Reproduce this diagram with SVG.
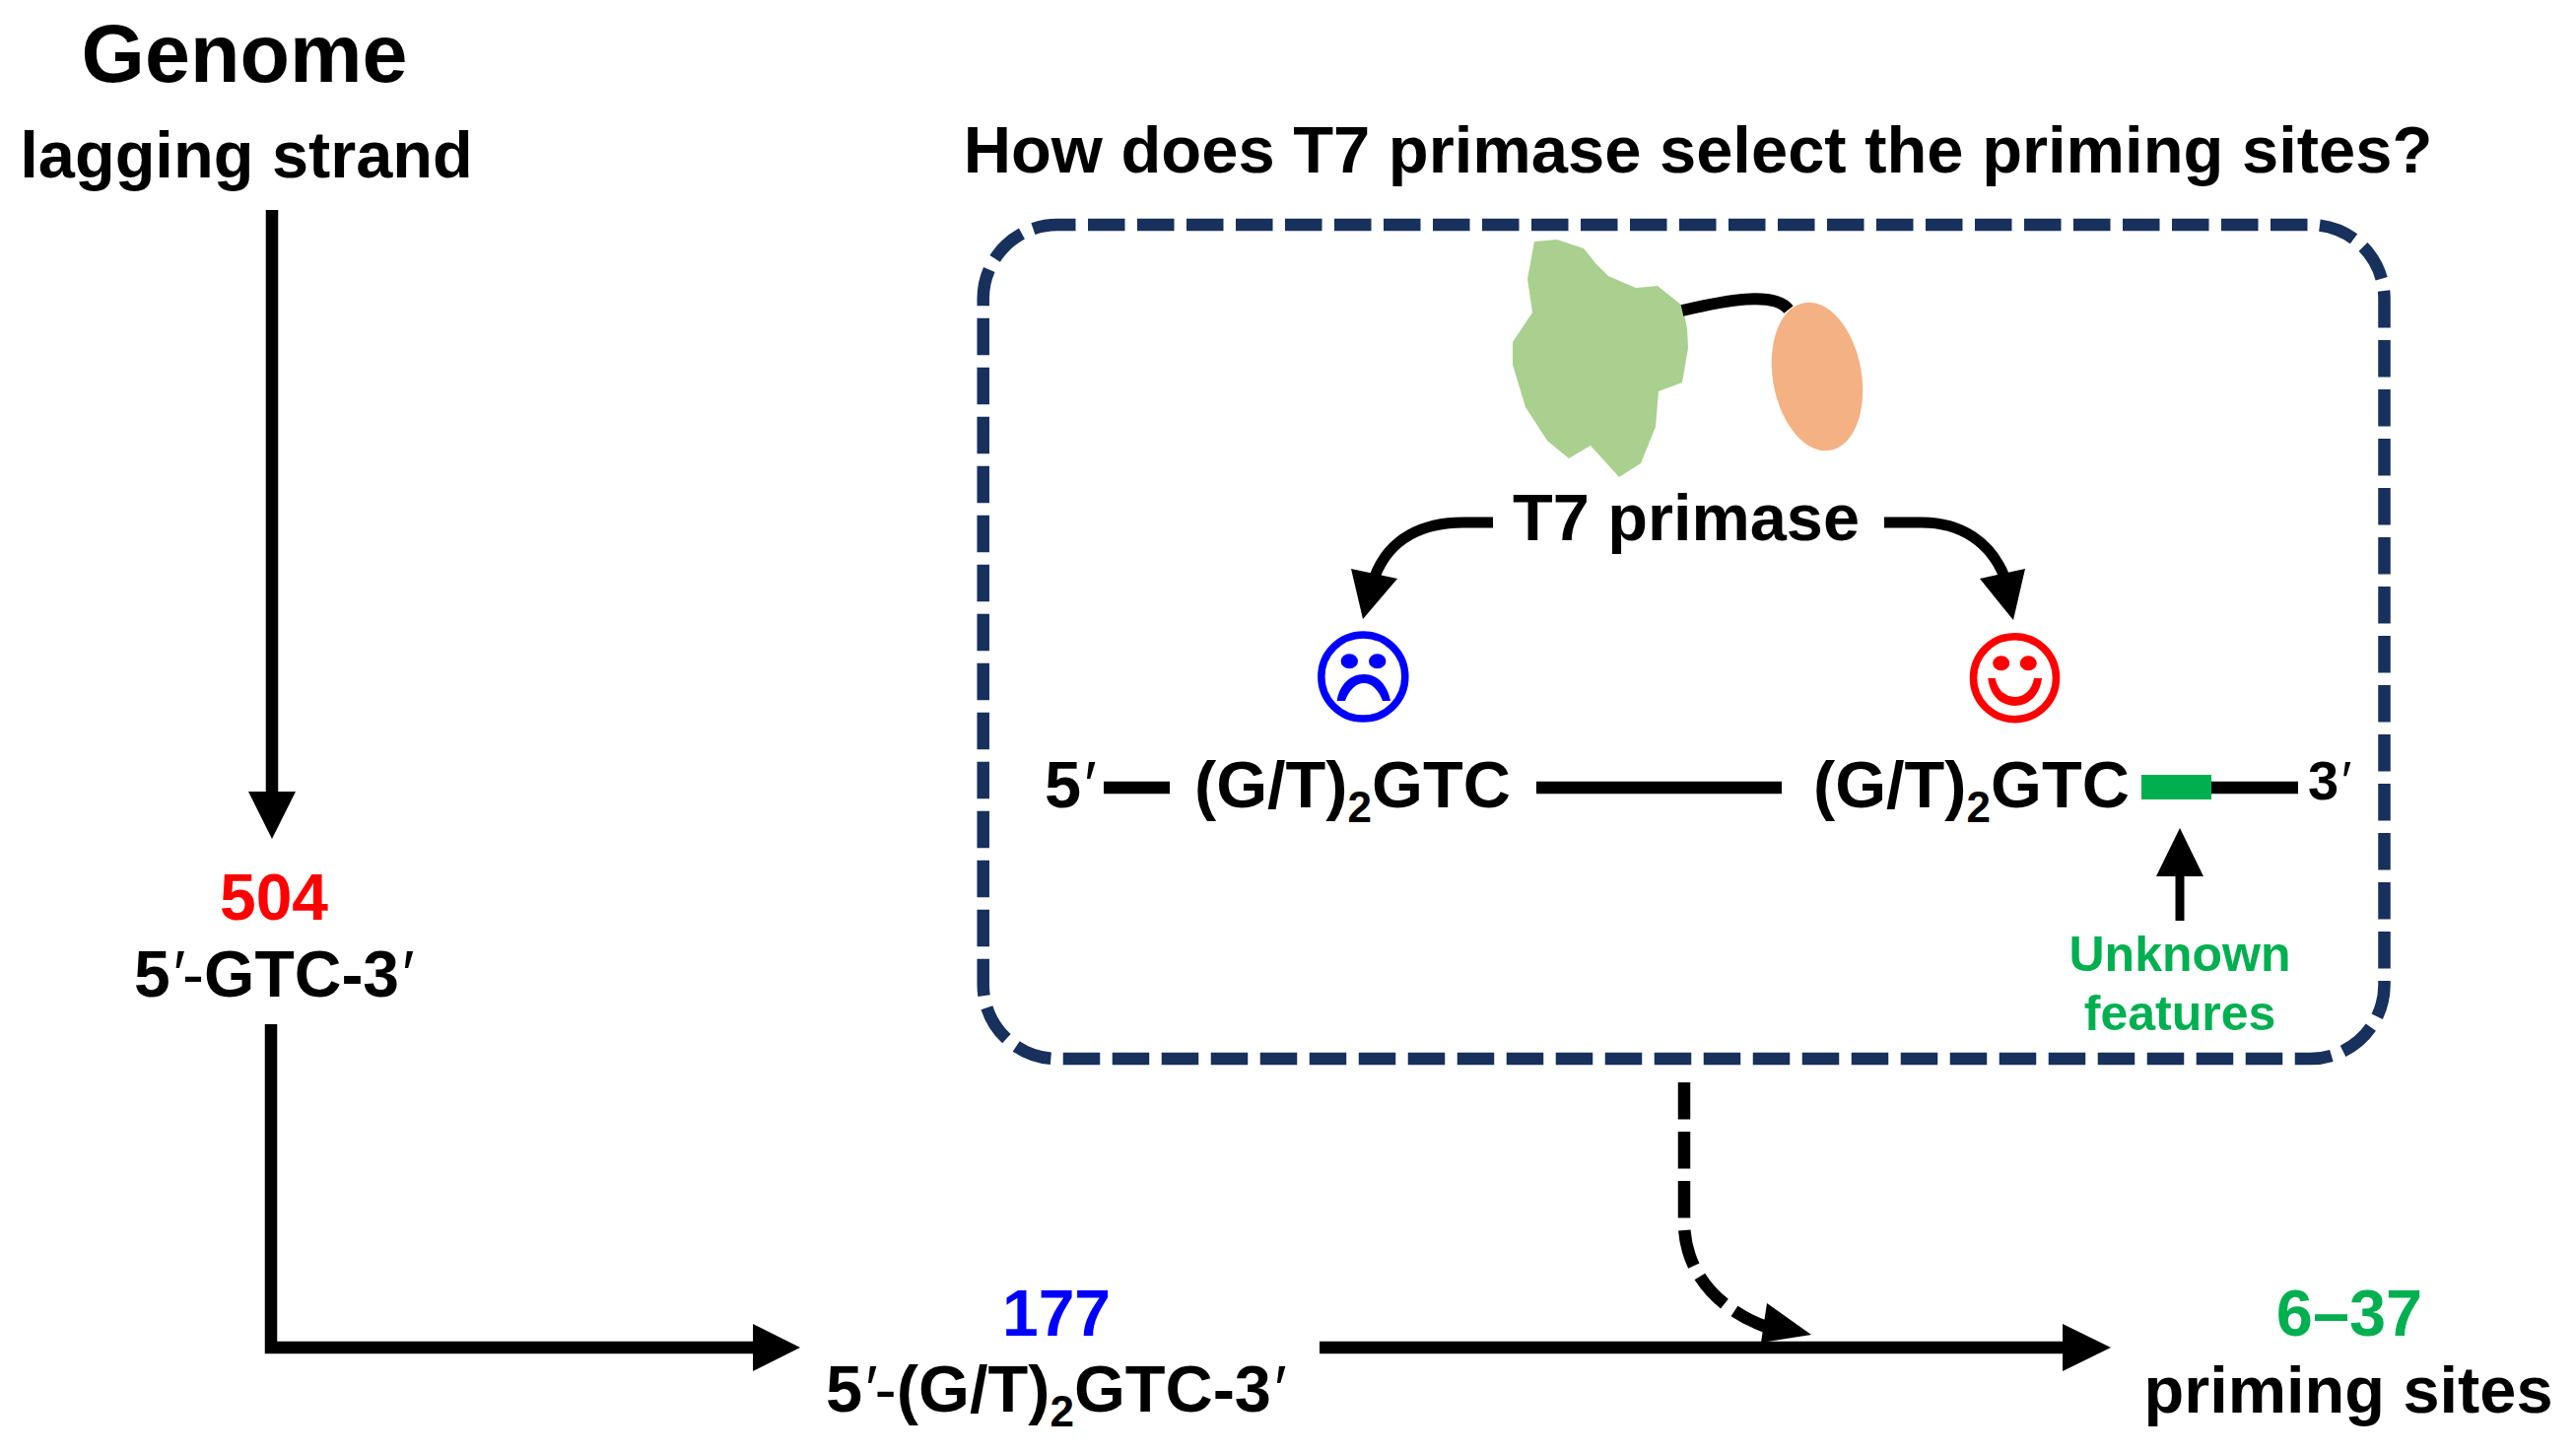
<svg xmlns="http://www.w3.org/2000/svg" width="2614" height="1475" viewBox="0 0 2614 1475">
<style>
text{font-family:"Liberation Sans",Arial,sans-serif;font-weight:700;fill:#000}
.t66{font-size:66.7px}.t65{font-size:66px}.m{text-anchor:middle}
.red{fill:#f00}.blue{fill:#00f}.green{fill:#00b050}
.ln{fill:none;stroke:#000;stroke-width:12.5}
.ah{fill:#000;stroke:none}
.sub{font-size:44px}
.p{font-weight:400;font-style:italic}
.h{font-weight:400}
</style>
<rect width="2614" height="1475" fill="#fff"/>
<g id="title-genome"><text x="248" y="83" class="m" style="font-size:82.7px">Genome</text>
<text x="250" y="180" class="m t66">lagging strand</text></g>
<text id="question" x="1723" y="175" class="m t66" style="font-size:66.9px">How does T7 primase select the priming sites?</text>
<g id="box"><rect x="997.700" y="228" width="1421.800" height="846" rx="75" ry="75" fill="none" stroke="#17305c" stroke-width="12.500" stroke-dasharray="37.500 12.500" stroke-dashoffset="18.700"/></g>
<g id="primase">
<polygon fill="#a9d08e" points="1557,245 1580,243 1607,252 1620,268 1632,280 1660,292 1682,290 1707,310 1712,333 1713,353 1707,388 1683,397 1680,433 1665,470 1643,484 1614,452 1592,465 1570,447 1548,413 1535,370 1535,347 1555,317 1550,283"/>
<ellipse cx="1844" cy="382" rx="45" ry="76" transform="rotate(-10 1844 382)" fill="#f4b183"/>
<path d="M1707 315C1750 305 1800 295 1815 314" fill="none" stroke="#000" stroke-width="12"/>
<text x="1711" y="548" class="m t66">T7 primase</text>
</g>
<g id="sad"><circle cx="1383.300" cy="686.500" r="42.500" fill="none" stroke="#00f" stroke-width="7.500"/>
<ellipse cx="1369.300" cy="670.700" rx="8.700" ry="7.500" fill="#00f"/><ellipse cx="1397.700" cy="670.700" rx="8.700" ry="7.500" fill="#00f"/>
<path d="M1356.700 711C1359 695 1370 684 1384 684C1398 684 1408 695 1411 711L1403 711C1399 700 1392 693 1384 693C1376 693 1369 700 1365 711Z" fill="#00f"/></g>
<g id="happy"><circle cx="2044.500" cy="687.700" r="42" fill="none" stroke="#f00" stroke-width="7.500"/>
<ellipse cx="2030.700" cy="672.700" rx="8.500" ry="7.500" fill="#f00"/><ellipse cx="2058.300" cy="672.700" rx="8.500" ry="7.500" fill="#f00"/>
<path d="M2017.300 688C2019 705 2030 716 2044.500 716C2059 716 2070 705 2072 688L2064 688C2062 700 2054 707 2044.500 707C2035 707 2027 700 2024.700 688Z" fill="#f00"/></g>
<g id="strand">
<text x="1060" y="819" class="t66">5<tspan class="p">′</tspan></text>
<text x="1212" y="819" class="t66">(G/T)<tspan class="sub" dy="15">2</tspan><tspan dy="-15">GTC</tspan></text>
<text x="1840" y="819" class="t66">(G/T)<tspan class="sub" dy="15">2</tspan><tspan dy="-15">GTC</tspan></text>
<text x="2342" y="811" style="font-size:56px">3<tspan class="p">′</tspan></text>
<rect x="2173" y="786" width="71" height="25" fill="#00b050"/>
</g>
<g id="unknown"><text x="2212" y="985" class="m green" style="font-size:50px">Unknown</text>
<text x="2212" y="1045" class="m green" style="font-size:50px">features</text></g>
<g id="n504"><text x="278" y="933" class="m red t65">504</text><text x="136" y="1011" class="t65">5<tspan class="p">′</tspan><tspan class="h">-</tspan>GTC-3<tspan class="p">′</tspan></text></g>
<g id="n177"><text x="1072" y="1355" class="m blue t65">177</text>
<text x="838" y="1432" class="t66">5<tspan class="p">′</tspan><tspan class="h">-</tspan>(G/T)<tspan class="sub" dy="15">2</tspan><tspan dy="-15">GTC-3</tspan><tspan class="p">′</tspan></text></g>
<g id="n637"><text x="2384" y="1355" class="m green t66">6–37</text><text x="2383" y="1433" class="m t66">priming sites</text></g>
<g id="connectors">
<path class="ln" d="M276 213V810"/><polygon class="ah" points="252,803 300,803 276,851"/>
<path class="ln" d="M275 1039V1367H770"/><polygon class="ah" points="764,1343 764,1391 812,1367"/>
<path class="ln" d="M1339 1367H2100"/><polygon class="ah" points="2093,1343 2093,1391 2142,1367"/>
<path d="M1709 1098V1240C1709 1295 1750 1335 1805 1350" fill="none" stroke="#000" stroke-width="12.500" stroke-dasharray="37.500 12.500"/>
<polygon class="ah" points="1793,1322 1838,1354 1787,1362"/>
<path class="ln" d="M1515 530H1485C1445 530 1410 545 1395 585" style="stroke-width:11"/><polygon class="ah" points="1371,577 1418,587 1383,628"/>
<path class="ln" d="M1912 530H1950C1990 530 2020 550 2034 585" style="stroke-width:11"/><polygon class="ah" points="2009,587 2055,577 2043,629"/>
<path class="ln" d="M1120 799H1187M1559 799H1808M2244 799H2332"/>
<path d="M2212 934V885" fill="none" stroke="#000" stroke-width="9"/><polygon class="ah" points="2188,889 2236,889 2212,840"/>
</g>
</svg>
